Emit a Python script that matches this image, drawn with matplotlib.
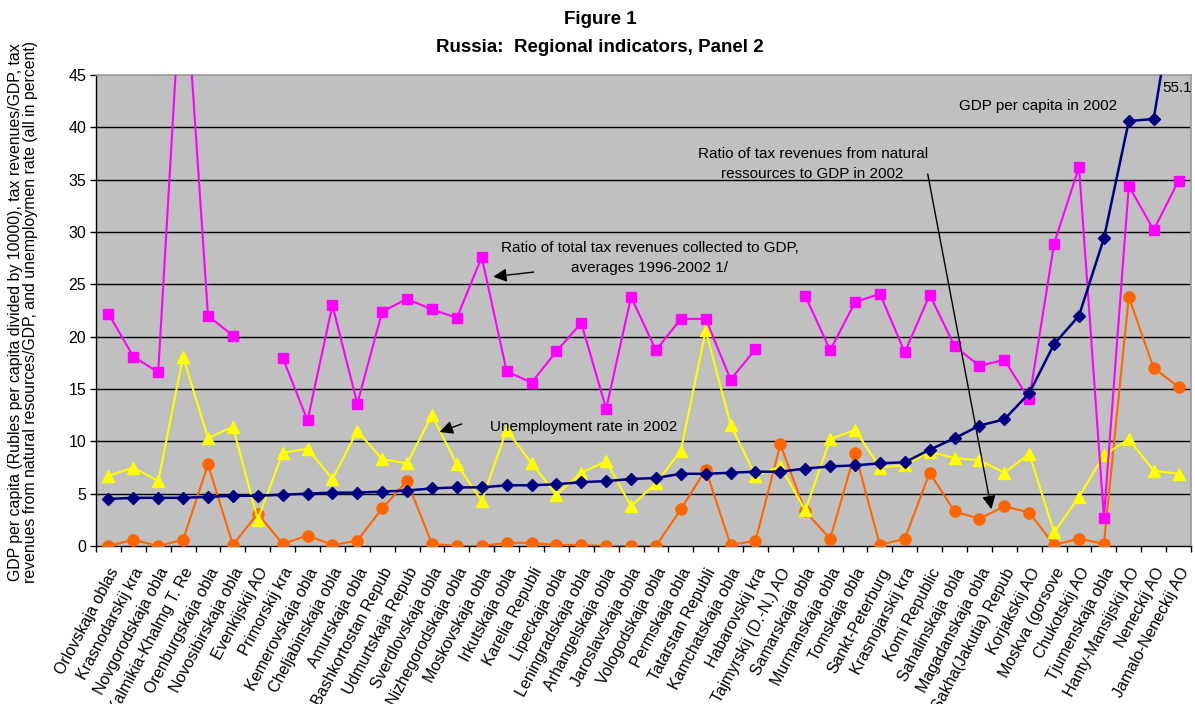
import numpy as np
import matplotlib
matplotlib.use("Agg")
import matplotlib.pyplot as plt

plt.rcParams['font.family'] = ['Liberation Sans', 'DejaVu Sans']

regions = ["Orlovskaja oblas", "Krasnodarskij kra", "Novgorodskaja obla", "Kalmikia-Khalmg T. Re",
           "Orenburgskaja obla", "Novosibirskaja obla", "Evenkijskij AO", "Primorskij kra",
           "Kemerovskaja obla", "Cheljabinskaja obla", "Amurskaja obla", "Bashkortostan Repub",
           "Udmurtskaja Repub", "Sverdlovskaja obla", "Nizhegorodskaja obla", "Moskovskaja obla",
           "Irkutskaja obla", "Karelia Republi", "Lipeckaja obla", "Leningradskaja obla",
           "Arhangelskaja obla", "Jaroslavskaja obla", "Vologodskaja obla", "Permskaja obla",
           "Tatarstan Republi", "Kamchatskaja obla", "Habarovskij kra", "Tajmyrskij (D.-N.) AO",
           "Samarskaja obla", "Murmanskaja obla", "Tomskaja obla", "Sankt-Peterburg",
           "Krasnojarskij kra", "Komi Republic", "Sahalinskaja obla", "Magadanskaja obla",
           "Sakha(Jakutia) Repub", "Korjakskij AO", "Moskva (gorsove", "Chukotskij AO",
           "Tjumenskaja obla", "Hanty-Mansijskij AO", "Neneckij AO", "Jamalo-Neneckij AO"]

gdp_per_capita = [4.5, 4.6, 4.6, 4.6, 4.7, 4.8, 4.8, 4.9, 5.0, 5.1, 5.1, 5.2, 5.3, 5.5, 5.6,
                  5.6, 5.8, 5.8, 5.9, 6.1, 6.2, 6.4, 6.5, 6.9, 6.9, 7.0, 7.1, 7.1, 7.4, 7.6,
                  7.7, 7.9, 8.0, 9.2, 10.3, 11.5, 12.1, 14.6, 19.3, 22.0, 29.4, 40.6, 40.8, 55.1]

tax_ratio = [22.2, 18.1, 16.6, 57.5, 22.0, 20.1, np.nan, 18.0, 12.0, 23.0, 13.6, 22.4, 23.6,
             22.6, 21.8, 27.6, 16.7, 15.6, 18.6, 21.3, 13.1, 23.8, 18.7, 21.7, 21.7, 15.9,
             18.8, np.nan, 23.9, 18.7, 23.3, 24.1, 18.5, 24.0, 19.1, 17.2, 17.8, 14.0, 28.9,
             36.2, 2.7, 34.4, 30.2, 34.9]

unemployment = [6.7, 7.5, 6.2, 18.1, 10.3, 11.4, 2.5, 8.9, 9.3, 6.4, 11.0, 8.3, 7.9, 12.5, 7.8,
                4.3, 11.1, 7.9, 4.9, 7.0, 8.1, 3.8, 6.0, 9.1, 20.6, 11.6, 6.7, 7.6, 3.4, 10.2,
                11.1, 7.5, 7.7, 9.0, 8.4, 8.2, 7.0, 8.8, 1.3, 4.7, 8.7, 10.2, 7.2, 6.9]

natural_res = [0.0, 0.6, 0.0, 0.6, 7.8, 0.1, 3.1, 0.2, 1.0, 0.1, 0.5, 3.6, 6.2, 0.2, 0.0,
               0.0, 0.3, 0.3, 0.1, 0.1, 0.0, 0.0, 0.0, 3.5, 7.3, 0.1, 0.5, 9.7, 3.3, 0.7,
               8.9, 0.1, 0.7, 7.0, 3.3, 2.6, 3.8, 3.2, 0.1, 0.7, 0.2, 23.8, 17.0, 15.2]

W, H = 1195, 704
fig = plt.figure(figsize=(W / 100, H / 100), dpi=100)
ax = fig.add_axes([96 / W, 1 - 546 / H, (1191 - 96) / W, (546 - 75) / H])
ax.set_facecolor('#C0C0C0')

x = np.arange(len(regions))
ax.set_xlim(-0.5, len(regions) - 0.5)
ax.set_ylim(0, 45)
ax.set_yticks(np.arange(0, 46, 5))
for yv in range(5, 45, 5):
    ax.axhline(yv, color='black', lw=1.0, zorder=1)

ax.plot(x, natural_res, color='#FF6600', lw=1.5, marker='o', ms=8, zorder=3)
ax.plot(x, unemployment, color='#FFFF00', lw=1.5, marker='^', ms=8.5, zorder=3)
ax.plot(x, tax_ratio, color='#FF00FF', lw=1.5, marker='s', ms=7.5, zorder=3)
ax.plot(x, gdp_per_capita, color='#000080', lw=1.8, marker='D', ms=6, zorder=4)

for side in ('top', 'right'):
    ax.spines[side].set_color('#9A9A9A')
    ax.spines[side].set_linewidth(1.2)
for side in ('left', 'bottom'):
    ax.spines[side].set_color('black')
    ax.spines[side].set_linewidth(1.0)

ax.set_xticks(x)
ax.set_xticks(np.arange(-0.5, len(regions), 1.0), minor=True)
ax.tick_params(axis='x', which='major', length=0, pad=14)
ax.tick_params(axis='x', which='minor', length=4, direction='out', width=1)
ax.set_xticklabels(regions, rotation=62, ha='right', va='top', rotation_mode='anchor', fontsize=11.5)
ax.tick_params(axis='y', length=4, direction='out', width=1, pad=3, labelsize=11.5)

fig.text(23 / W, 1 - 312 / H,
         "GDP per capita (Rubles per capita divided by 10000), tax revenues/GDP, tax\n"
         "revenues from natural resources/GDP, and unemploymen rate (all in percent)",
         rotation=90, ha='center', va='center', fontsize=11.4, linespacing=1.05)

fig.text(0.502, 1 - 20 / H, "Figure 1", ha='center', va='center', fontsize=13.5, fontweight='bold')
fig.text(0.502, 1 - 47 / H, "Russia:  Regional indicators, Panel 2", ha='center', va='center',
         fontsize=13.5, fontweight='bold')

ax.text(21.75, 27.5, "Ratio of total tax revenues collected to GDP,\naverages 1996-2002 1/",
        ha='center', va='center', fontsize=11, linespacing=1.5)
ax.annotate("", xy=(15.35, 25.7), xytext=(17.2, 26.2),
            arrowprops=dict(arrowstyle='-|>', color='black', lw=1, mutation_scale=20))

ax.text(15.35, 11.35, "Unemployment rate in 2002", ha='left', va='center', fontsize=11)
ax.annotate("", xy=(13.2, 10.8), xytext=(14.3, 11.75),
            arrowprops=dict(arrowstyle='-|>', color='black', lw=1, mutation_scale=20))

ax.text(28.3, 36.5, "Ratio of tax revenues from natural\nressources to GDP in 2002",
        ha='center', va='center', fontsize=11, linespacing=1.5)
ax.annotate("", xy=(35.5, 3.25), xytext=(32.9, 35.8),
            arrowprops=dict(arrowstyle='-|>', color='black', lw=1, mutation_scale=20))

ax.text(37.35, 42.0, "GDP per capita in 2002", ha='center', va='center', fontsize=11)
ax.text(42.35, 43.8, "55.1", ha='left', va='center', fontsize=11, clip_on=False)

fig.savefig("out.png", dpi=100)
